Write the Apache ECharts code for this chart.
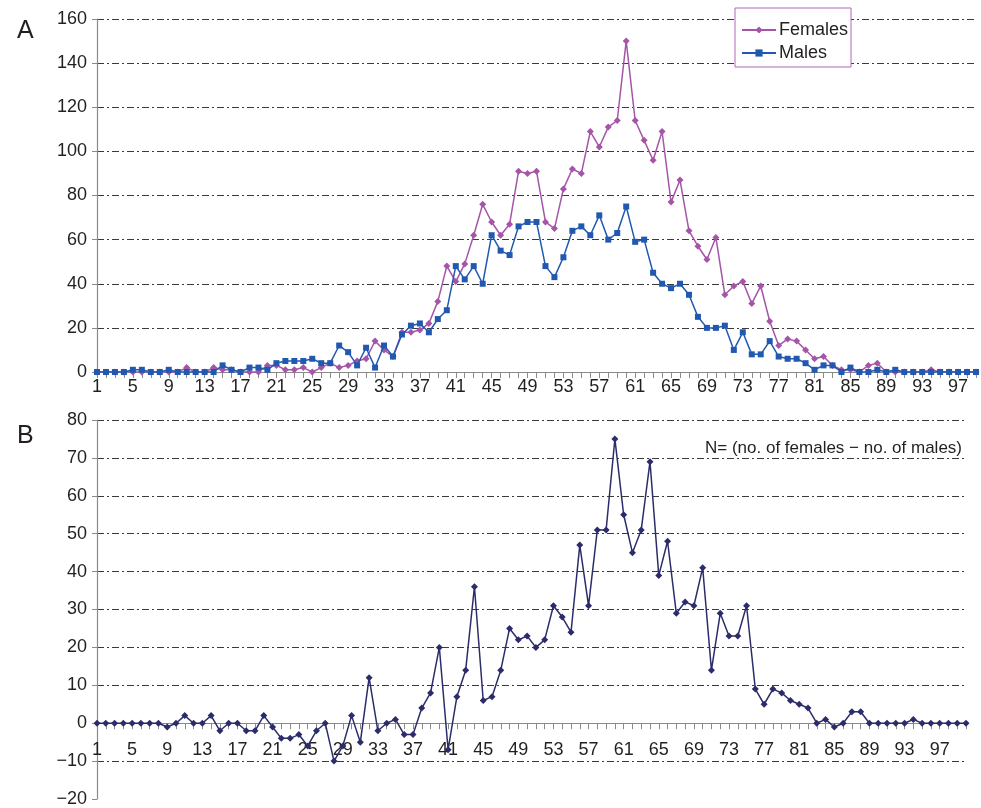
<!DOCTYPE html>
<html>
<head>
<meta charset="utf-8">
<script src="https://cdn.jsdelivr.net/npm/echarts@6/dist/echarts.min.js"></script>
<style>
  html, body { margin: 0; padding: 0; background: #fff; }
  #main { width: 981px; height: 808px; }
</style>
</head>
<body>
<div id="main"></div>
<script>
// ages 1..99 in panel A, 1..100 in panel B
var agesA = [];
for (var a = 1; a <= 99; a++) agesA.push(String(a));
var agesB = [];
for (var b = 1; b <= 100; b++) agesB.push(String(b));

var females = [0,0,0,0,0,0,0,0,0,0, 2,0,0,2,1,1,0,0,0,3, 3,1,1,2,0,2,4,2,3,5,
  6,14,10,7,18,18,19,22,32,48, 41,49,62,76,68,62,67,91,90,91, 68,65,83,92,90,109,102,111,114,150,
  114,105,96,109,77,87,64,57,51,61, 35,39,41,31,39,23,12,15,14,10, 6,7,3,1,1,0,3,4,0,0,
  0,0,0,1,0,0,0,0,0];
var males = [0,0,0,0,1,1,0,0,1,0, 0,0,0,0,3,1,0,2,2,1, 4,5,5,5,6,4,4,12,9,3,
  11,2,12,7,17,21,22,18,24,28, 48,42,48,40,62,55,53,66,68,68, 48,43,52,64,66,62,71,60,63,75,
  59,60,45,40,38,40,35,25,20,20, 21,10,18,8,8,14,7,6,6,4, 1,3,3,0,2,0,0,1,0,1,
  0,0,0,0,0,0,0,0,0];
var diff = [0,0,0,0,0,0,0,0,-1,0, 2,0,0,2,-2,0,0,-2,-2,2, -1,-4,-4,-3,-6,-2,0,-10,-6,2,
  -5,12,-2,0,1,-3,-3,4,8,20, -7,7,14,36,6,7,14,25,22,23, 20,22,31,28,24,47,31,51,51,75,
  55,45,51,69,39,48,29,32,31,41, 14,29,23,23,31,9,5,9,8,6, 5,4,0,1,-1,0,3,3,0,0,
  0,0,0,1,0,0,0,0,0,0];

var font = 'Liberation Sans, Arial, sans-serif';
var textColor = '#231f20';
var axisGray = '#8a8a8a';
var gridLine = { color: '#3a3a3a', width: 1, type: [7, 3, 2, 3] };
var labelStyle = { color: textColor, fontFamily: font, fontSize: 18 };

function yAxisCfg(idx, min, max, step, extra) {
  var cfg = {
    gridIndex: idx, type: 'value', min: min, max: max, interval: step,
    axisLine: { show: true, lineStyle: { color: axisGray, width: 1.2 } },
    axisTick: { show: true, length: 5, lineStyle: { color: axisGray } },
    axisLabel: Object.assign({ margin: 10,
      formatter: function (v) { return String(v).replace('-', '\u2212'); } }, labelStyle),
    splitLine: { show: true, lineStyle: gridLine }
  };
  return Object.assign(cfg, extra || {});
}

var myChart = echarts.init(document.getElementById('main'));
var option = {
  animation: false,
  textStyle: { fontFamily: font },
  title: [
    { text: 'A', left: 12, top: 14, textStyle: { fontSize: 25, fontWeight: 'normal', color: textColor, fontFamily: font } },
    { text: 'B', left: 12, top: 419, textStyle: { fontSize: 25, fontWeight: 'normal', color: textColor, fontFamily: font } },
    { text: 'N= (no. of females \u2212 no. of males)', right: 14, top: 435,
      textStyle: { fontSize: 17, fontWeight: 'normal', color: textColor, fontFamily: font } }
  ],
  legend: {
    data: ['Females', 'Males'],
    orient: 'vertical',
    left: 735, top: 8,
    padding: [13, 3, 5, 6],
    itemWidth: 34, itemHeight: 9, itemGap: 5,
    borderColor: '#b266b2', borderWidth: 1,
    backgroundColor: '#fff',
    textStyle: { fontSize: 18, lineHeight: 18, color: textColor, fontFamily: font, padding: [0, 0, 0, -2] }
  },
  grid: [
    { left: 97, right: 5, top: 19, bottom: 436 },
    { left: 97, right: 15, top: 420, bottom: 7 },
    // same width as panel B, ending at its zero line: carries B's category labels
    { left: 97, right: 15, top: 420, bottom: 83 }
  ],
  xAxis: [
    {
      gridIndex: 0, type: 'category', data: agesA, boundaryGap: false,
      axisLine: { lineStyle: { color: axisGray, width: 1.2 } },
      axisTick: { interval: 0, length: 6, lineStyle: { color: axisGray } },
      axisLabel: Object.assign({ interval: 3, margin: 6 }, labelStyle)
    },
    {
      gridIndex: 1, type: 'category', data: agesB, boundaryGap: false,
      axisLine: { onZero: true, lineStyle: { color: axisGray, width: 1.2 } },
      axisTick: { interval: 0, length: 6, lineStyle: { color: axisGray } },
      axisLabel: { show: false }
    },
    {
      gridIndex: 2, type: 'category', data: agesB, boundaryGap: false,
      axisLine: { show: false }, axisTick: { show: false },
      axisLabel: Object.assign({ interval: 3, margin: 16 }, labelStyle)
    }
  ],
  yAxis: [
    yAxisCfg(0, 0, 160, 20),
    yAxisCfg(1, -20, 80, 10, { splitLine: { show: true, showMinLine: false, lineStyle: gridLine } }),
    { gridIndex: 2, type: 'value', show: false }
  ],
  series: [
    {
      name: 'Females', type: 'line', xAxisIndex: 0, yAxisIndex: 0,
      data: females, showAllSymbol: true,
      symbol: 'diamond', symbolSize: 7,
      itemStyle: { color: '#a555a8' },
      lineStyle: { color: '#a555a8', width: 1.5 },
      z: 3
    },
    {
      name: 'Males', type: 'line', xAxisIndex: 0, yAxisIndex: 0,
      data: males, showAllSymbol: true,
      symbol: 'rect', symbolSize: 6,
      itemStyle: { color: '#2159b0' },
      lineStyle: { color: '#2159b0', width: 1.5 },
      z: 4
    },
    {
      name: 'Difference', type: 'line', xAxisIndex: 1, yAxisIndex: 1,
      data: diff, showAllSymbol: true,
      symbol: 'diamond', symbolSize: 7,
      itemStyle: { color: '#2b2d6a' },
      lineStyle: { color: '#2b2d6a', width: 1.5 }
    }
  ]
};
option && myChart.setOption(option);
</script>
</body>
</html>
